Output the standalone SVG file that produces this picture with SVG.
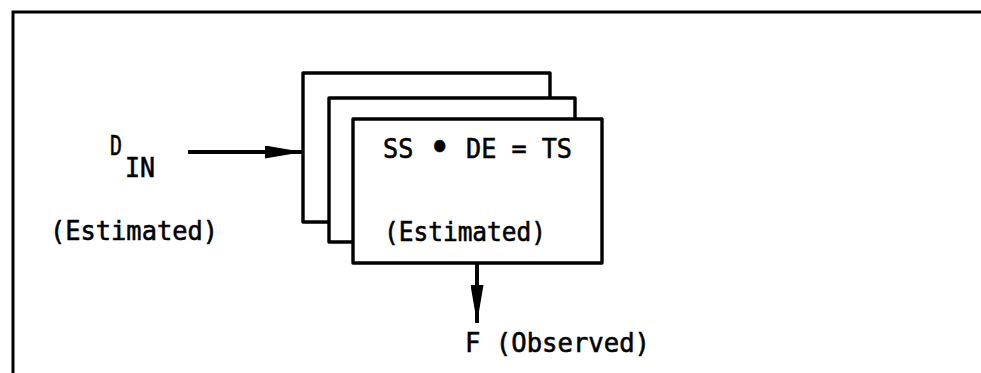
<svg xmlns="http://www.w3.org/2000/svg" width="981" height="373" viewBox="0 0 981 373">
  <defs>
    <style>
      .frame { fill: none; stroke: #000; stroke-width: 3; }
      .box { fill: #fff; stroke: #000; stroke-width: 3.4; stroke-linejoin: round; }
      .conn { fill: none; stroke: #000; stroke-width: 4; }
      .t { font-family: "DejaVu Sans Mono", "Liberation Mono", monospace; font-size: 27px; fill: #000; stroke: #000; stroke-width: 0.6; }
    </style>
    <marker id="arrow" markerUnits="userSpaceOnUse" markerWidth="40" markerHeight="13" refX="38" refY="6.5" orient="auto">
      <path d="M0,0 L38,6.5 L0,13 Z" fill="#000"/>
    </marker>
  </defs>
  <rect width="981" height="373" fill="#fff"/>
  <path class="frame" d="M13,373 V12 H981"/>

  <g id="node-din">
    <text class="t" x="110" y="155" font-size="19" textLength="12" lengthAdjust="spacingAndGlyphs">D</text>
    <text class="t" x="125" y="177" font-size="21" textLength="30" lengthAdjust="spacingAndGlyphs">IN</text>
    <text class="t" x="50" y="240" textLength="168" lengthAdjust="spacingAndGlyphs">(Estimated)</text>
  </g>

  <g id="node-stack">
    <rect class="box" x="303" y="73" width="247" height="149"/>
    <rect class="box" x="329" y="98" width="246" height="144"/>
    <rect class="box" x="353" y="119" width="249" height="144"/>
    <text class="t" x="383" y="158" textLength="189" lengthAdjust="spacingAndGlyphs">SS <tspan font-size="40" dy="3">•</tspan><tspan dy="-3"> DE = TS</tspan></text>
    <text class="t" x="384" y="241" textLength="162" lengthAdjust="spacingAndGlyphs">(Estimated)</text>
  </g>

  <g id="node-f">
    <text class="t" x="465" y="352" textLength="185" lengthAdjust="spacingAndGlyphs">F (Observed)</text>
  </g>

  <g id="connectors">
    <line class="conn" x1="188" y1="152" x2="303" y2="152" marker-end="url(#arrow)"/>
    <line class="conn" x1="477" y1="263" x2="477" y2="323" marker-end="url(#arrow)"/>
  </g>
</svg>
